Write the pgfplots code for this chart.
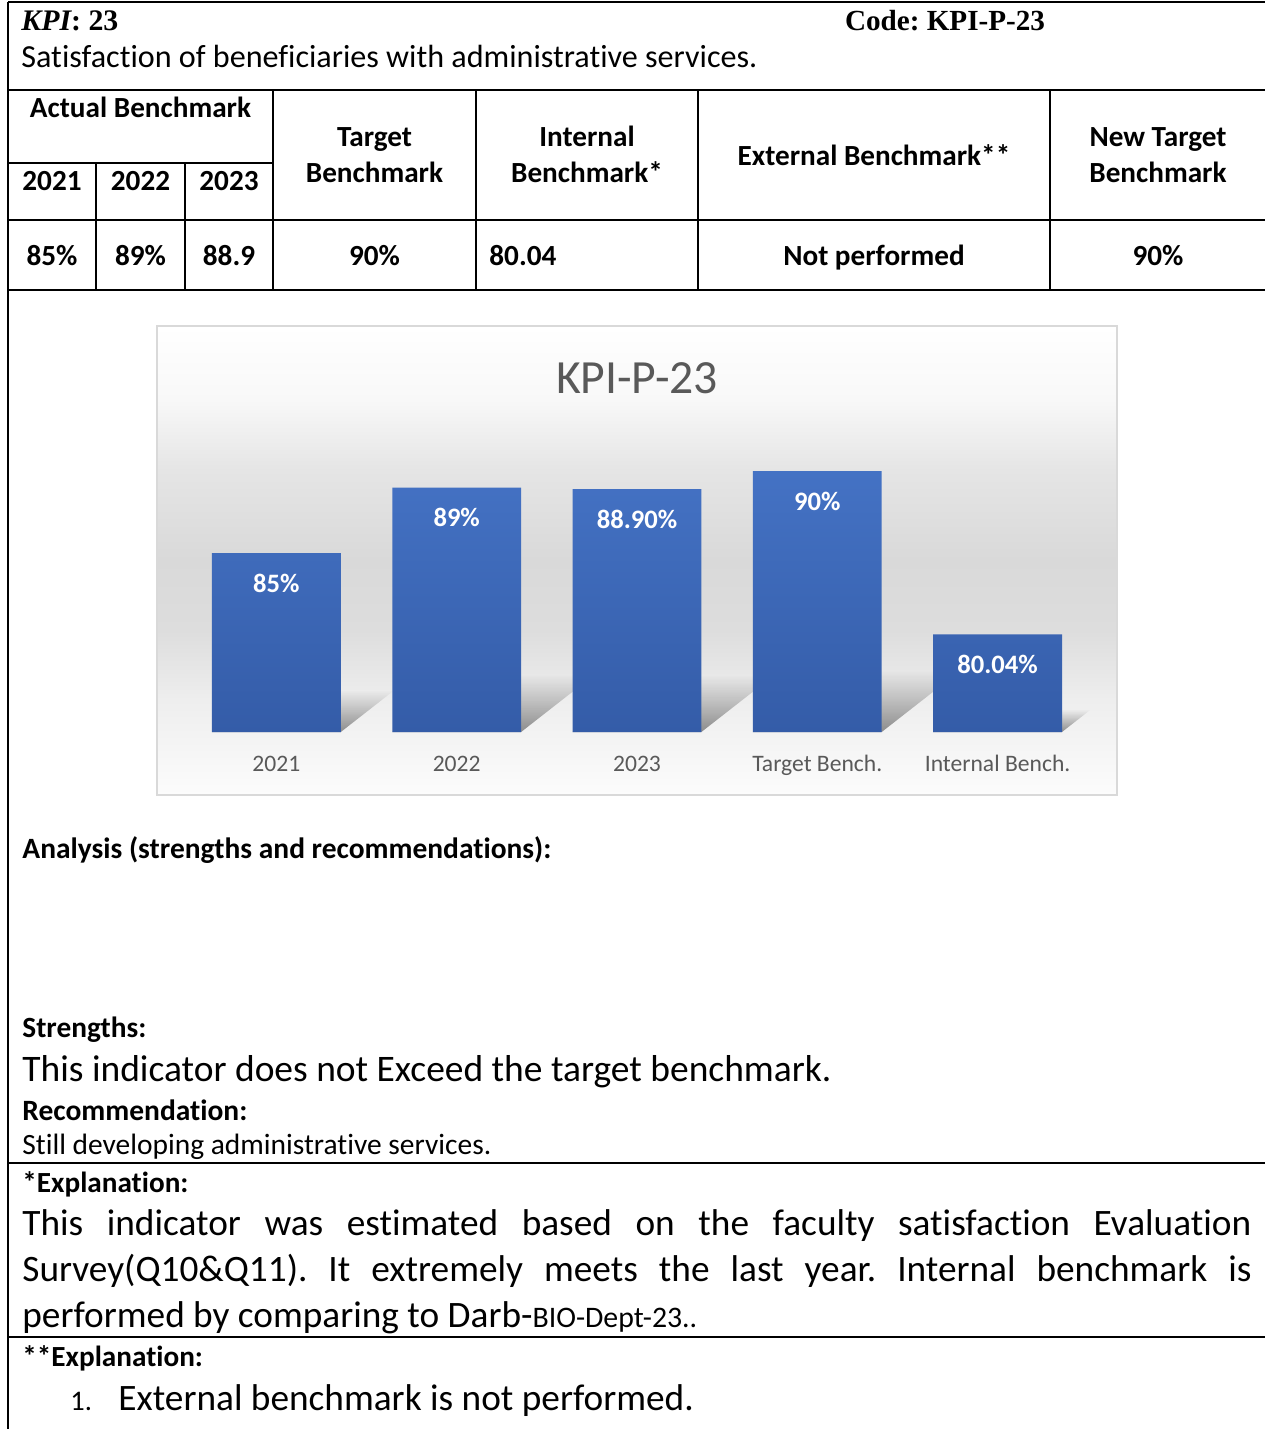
\documentclass[border=0pt]{standalone}
\usepackage{fontspec}
\setmainfont{Carlito}[Ligatures=NoCommon]
\newfontfamily\tnr{Liberation Serif}
\usepackage{graphicx}
\usepackage{pgfplots}
\usetikzlibrary{fadings}
\pgfplotsset{compat=1.18}
\frenchspacing
\definecolor{barTop}{RGB}{68,114,196}
\definecolor{barBot}{RGB}{52,92,168}
\definecolor{txtgray}{RGB}{89,89,89}
\definecolor{framecol}{RGB}{217,217,217}
\definecolor{bgA}{RGB}{252,252,252}
\definecolor{bgB}{RGB}{238,238,238}
\definecolor{bgC}{RGB}{221,221,221}
\definecolor{bgD}{RGB}{217,217,217}
\definecolor{bgE}{RGB}{229,229,229}
\definecolor{bgF}{RGB}{248,248,248}
\pgfdeclareverticalshading{chartbg}{100bp}{color(0bp)=(bgA); color(25bp)=(bgA); color(35.13bp)=(bgB); color(42.59bp)=(bgC); color(50.05bp)=(bgD); color(59.65bp)=(bgE); color(67.11bp)=(bgF); color(75bp)=(white); color(100bp)=(white)}
\newlength\pxu \setlength\pxu{0.5pt}
\newcommand\RS[2]{\resizebox{#1\pxu}{!}{#2}}
\newcommand\tb{\fontsize{14.6}{17}\selectfont\bfseries}
\newcommand\fb{\fontsize{18.65}{22}\selectfont}
\begin{document}
\begin{tikzpicture}
\useasboundingbox (0,0) rectangle (632.5pt,-714.5pt);
\begin{scope}[x=0.5pt,y=-0.5pt, L/.style={anchor=base west,inner sep=0pt}, C/.style={anchor=base,inner sep=0pt}]
\fill[white] (0,0) rectangle (1265,1429);
\shade[shading=chartbg] (157,326) rectangle (1117,795);
\draw[framecol, line width=1pt] (157,326) rectangle (1117,795);
\begin{scope}[line width=1pt]
\draw (8,2) -- (1265,2);
\draw (8,90) -- (1265,90);
\draw (8,163) -- (273,163);
\draw (8,220) -- (1265,220);
\draw (8,290) -- (1265,290);
\draw (8,1163) -- (1265,1163);
\draw (8,1337) -- (1265,1337);
\draw (8,2) -- (8,1429);
\draw (96,163) -- (96,290);
\draw (185,163) -- (185,290);
\foreach \xx in {273,476,698,1050} {\draw (\xx,90) -- (\xx,290);}
\end{scope}
% header
\node[L] at (21,31) {\RS{97}{\tnr\bfseries\itshape KPI\upshape: 23}};
\node[C] at (945,31) {\RS{200}{\tnr\bfseries Code: KPI-P-23}};
\node[L] at (21,68) {\RS{736}{Satisfaction of beneficiaries with administrative services.}};
% table
\node[C] at (140.5,118) {\tb Actual Benchmark};
\node[C] at (52,191) {\tb 2021};
\node[C] at (140.5,191) {\tb 2022};
\node[C] at (229,191) {\tb 2023};
\node[C] at (374.5,147) {\tb Target};
\node[C] at (374.5,182) {\tb Benchmark};
\node[C] at (587,147) {\tb Internal};
\node[C] at (587,182) {\tb Benchmark*};
\node[C] at (874,165) {\tb External Benchmark**};
\node[C] at (1158,147) {\tb New Target};
\node[C] at (1158,182) {\tb Benchmark};
\node[C] at (52,265) {\tb 85\%};
\node[C] at (140.5,265) {\tb 89\%};
\node[C] at (229,265) {\tb 88.9};
\node[C] at (374.5,265) {\tb 90\%};
\node[L] at (489,265) {\tb 80.04};
\node[C] at (874,265) {\tb Not performed};
\node[C] at (1158,265) {\tb 90\%};
% chart title
\node[C] at (637,393) {\RS{162}{\color{txtgray}KPI-P-23}};
% analysis text
\node[L] at (22,858) {\RS{529}{\bfseries Analysis (strengths and recommendations):}};
\node[L] at (22,1037) {\RS{124}{\bfseries Strengths:}};
\node[L] at (22,1081) {\RS{809}{This indicator does not Exceed the target benchmark.}};
\node[L] at (22,1120) {\RS{225}{\bfseries Recommendation:}};
\node[L] at (22,1154) {\RS{469}{Still developing administrative services.}};
\node[L] at (22,1192) {\tb *Explanation:};
\node[L] at (22,1235) {\fb\makebox[614.5pt][s]{This indicator was estimated based on the faculty satisfaction Evaluation}};
\node[L] at (22,1281) {\fb\makebox[614.5pt][s]{Survey(Q10\&Q11). It extremely meets the last year. Internal benchmark is}};
\node[L] at (22,1327) {\fb performed by comparing to Darb-{\fontsize{14.9}{17}\selectfont BIO-Dept-23..}};
\node[L] at (22,1366) {\tb **Explanation:};
\node[L] at (70,1410) {\fontsize{14.2}{17}\selectfont 1.};
\node[L] at (118,1410) {\fb External benchmark is not performed.};
\end{scope}
\begin{axis}[at={(93.125pt,-366pt)}, anchor=south west, scale only axis,
  width=450.75pt, height=146.85pt, xmin=-0.5, xmax=4.5, ymin=74.09, ymax=92,
  clip=false, axis line style={draw=none}, ytick=\empty,
  xtick={0,1,2,3,4}, xticklabels={2021,2022,2023,Target Bench.,Internal Bench.},
  major tick length=0pt,
  xticklabel style={anchor=base, yshift=-19.5pt, font=\fontsize{11.8}{14}\selectfont, text=txtgray},
  shadow/.style={fill=black, fill opacity=0.42, draw=none, path fading=north}]
\addplot[shadow] coordinates {(-0.357,74.09) (0.357,74.09) (0.655,76.65) (-0.059,76.65)} -- cycle;
\addplot[shadow] coordinates {(0.643,74.09) (1.357,74.09) (1.765,77.60) (1.051,77.60)} -- cycle;
\addplot[shadow] coordinates {(1.643,74.09) (2.357,74.09) (2.762,77.57) (2.048,77.57)} -- cycle;
\addplot[shadow] coordinates {(2.643,74.09) (3.357,74.09) (3.792,77.83) (3.078,77.83)} -- cycle;
\addplot[shadow] coordinates {(3.643,74.09) (4.357,74.09) (4.520,75.49) (3.806,75.49)} -- cycle;
\addplot[ybar, bar width=0.7147, draw=none, top color=barTop, bottom color=barBot,
  nodes near coords, point meta=explicit symbolic,
  every node near coord/.append style={anchor=base, yshift=-19.5pt, font=\fontsize{13.3}{16}\selectfont\bfseries, text=white}]
  coordinates {(0,85) [85\%] (1,89) [89\%] (2,88.9) [88.90\%] (3,90) [90\%] (4,80.04) [80.04\%]};
\end{axis}
\end{tikzpicture}
\end{document}
